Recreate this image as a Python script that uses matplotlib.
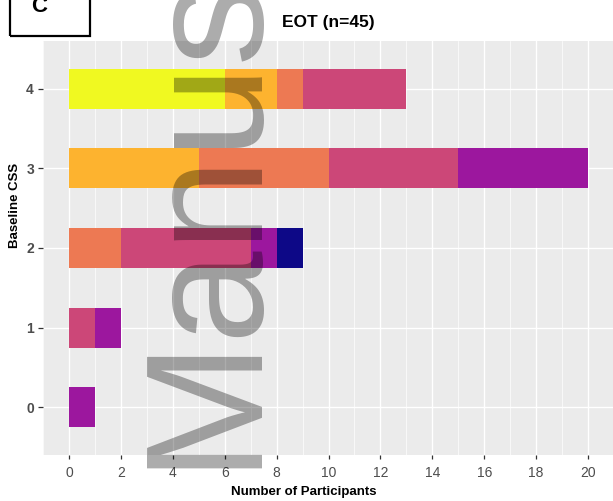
import numpy as np
import matplotlib.pyplot as plt
from matplotlib.patches import Rectangle

plt.rcParams['font.family'] = ['Liberation Sans', 'DejaVu Sans']

# baseline CSS categories and participant counts per EOT level (stack order left -> right)
baseline_css = [0, 1, 2, 3, 4]
level_colors = ['#F0F921', '#FDB32F', '#ED7953', '#CC4778', '#9C179E', '#0D0887']
counts = [
    [0, 0, 0, 0, 6],
    [0, 0, 0, 5, 2],
    [0, 0, 2, 5, 1],
    [0, 1, 5, 5, 4],
    [1, 1, 1, 5, 0],
    [0, 0, 1, 0, 0],
]
x_ticks = list(range(0, 21, 2))

W, H = 613, 501
fig = plt.figure(figsize=(W / 100, H / 100), dpi=100)
ax = fig.add_axes([43 / W, 1 - 455 / H, 1 - 43 / W, (455 - 41) / H])
ax.set_facecolor('#EBEBEB')
for s in ax.spines.values():
    s.set_visible(False)

left = np.zeros(len(baseline_css))
for c, vals in zip(level_colors, counts):
    vals = np.array(vals, dtype=float)
    ax.barh(baseline_css, vals, left=left, height=0.5, color=c, zorder=2)
    left += vals

ax.set_xlim(-1, 20.96)
ax.set_ylim(-0.6, 4.6)
ax.set_xticks(x_ticks)
ax.set_xticks(range(-1, 21, 2), minor=True)
ax.set_yticks(baseline_css)
ax.set_yticklabels([str(v) for v in baseline_css], fontweight='bold')
ax.grid(True, which='major', color='white', linewidth=1.0, zorder=1)
ax.grid(True, which='minor', axis='x', color='white', linewidth=0.5, zorder=1)
ax.set_axisbelow(True)
ax.tick_params(axis='x', which='major', length=3, width=0.9, color='#333333',
               labelsize=10, labelcolor='#4D4D4D', pad=5)
ax.tick_params(axis='y', which='major', length=3.5, width=0.9, color='#333333',
               labelsize=10, labelcolor='#4D4D4D', pad=3)
ax.tick_params(which='minor', length=0)

fig.text(328 / W, 1 - 22 / H, 'EOT (n=45)', ha='center', va='center',
         fontsize=12.5, fontweight='bold')
fig.text(304 / W, 1 - 495 / H, 'Number of Participants', ha='center', va='baseline',
         fontsize=9.5, fontweight='bold')
fig.text(18 / W, 1 - 248 / H, 'Baseline CSS', ha='left', va='baseline', rotation=90,
         rotation_mode='anchor', fontsize=9.5, fontweight='bold',
         transform=fig.transFigure)

# panel tag box
fig.patches.append(Rectangle((10 / W, 1 - 36 / H), 80 / W, 60 / H, transform=fig.transFigure,
                             fill=False, edgecolor='black', linewidth=1.6, clip_on=False))
fig.text(39 / W, 1 - 12 / H, 'C', ha='center', va='baseline', fontsize=16, fontweight='bold')

# watermark
fig.text(249 / W, 1 - 468 / H, 'Manus', rotation=90, rotation_mode='anchor',
         ha='left', va='baseline', fontsize=120, color='black', alpha=0.33)

fig.savefig('out.png', dpi=100)
